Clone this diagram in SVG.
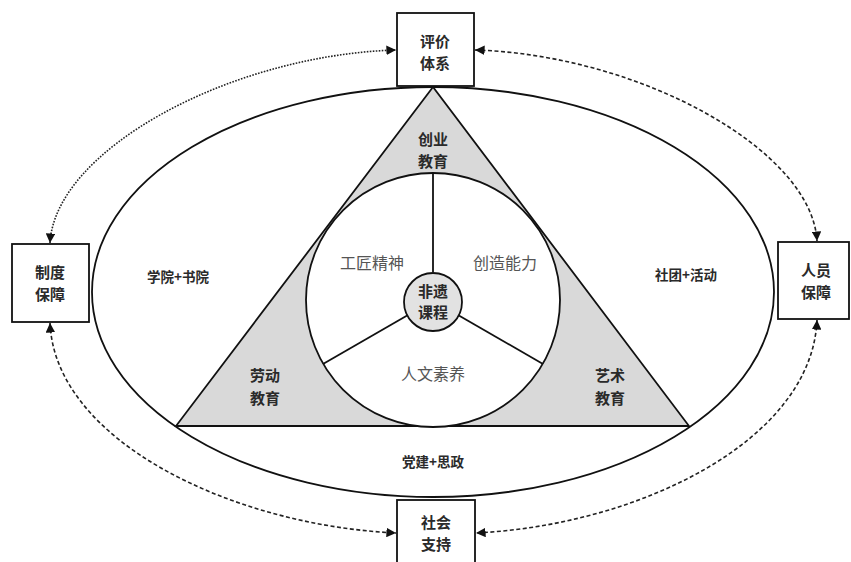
<svg xmlns="http://www.w3.org/2000/svg" width="851" height="562" viewBox="0 0 851 562">
<style>
.ln{fill:none;stroke:#111;stroke-width:1.8}
.box{fill:#fff;stroke:#111;stroke-width:1.8}
.tri{fill:#d9d9d9;stroke:#111;stroke-width:1.8}
.bt{font-family:"Noto Sans CJK SC","Noto Sans CJK TC",sans-serif;font-weight:bold;font-size:15px;fill:#2a2a2a;text-anchor:middle}
.st{font-family:"Noto Sans CJK SC",sans-serif;font-weight:bold;font-size:13.5px;fill:#2a2a2a;text-anchor:middle}
.gt{font-family:"Noto Sans CJK SC",sans-serif;font-size:16px;fill:#555;text-anchor:middle}
.dot{fill:none;stroke:#222;stroke-width:1.6;stroke-dasharray:1.6 1.4}
.dash{fill:none;stroke:#222;stroke-width:1.6;stroke-dasharray:4 2.5}
</style>
<defs>
<marker id="ah" viewBox="0 0 10 10" refX="10" refY="5" markerWidth="6" markerHeight="6" orient="auto-start-reverse" markerUnits="strokeWidth">
<path d="M0,0 L10,5 L0,10 z" fill="#111"/>
</marker>
</defs>
<g id="outer-ellipse"><ellipse class="ln" cx="433" cy="292" rx="341" ry="205"/></g>
<g id="triangle"><polygon class="tri" points="433,87 176,426 689,426"/></g>
<g id="inner-circle"><circle cx="433" cy="300" r="127" fill="#fff" stroke="#111" stroke-width="1.8"/></g>
<g id="spokes">
<line class="ln" x1="433" y1="173" x2="433" y2="272"/>
<line class="ln" x1="323" y1="364" x2="408" y2="315"/>
<line class="ln" x1="543" y1="364" x2="458" y2="315"/>
</g>
<g id="core"><circle cx="433" cy="302" r="29" fill="#e2e2e2" stroke="#111" stroke-width="1.8"/>
<text class="bt" x="433" y="297" font-size="14">非遗</text><text class="bt" x="433" y="318" font-size="14">课程</text></g>
<g id="label-chuangye"><text class="bt" x="433" y="145">创业</text><text class="bt" x="433" y="167">教育</text></g>
<g id="label-laodong"><text class="bt" x="265" y="381">劳动</text><text class="bt" x="265" y="404">教育</text></g>
<g id="label-yishu"><text class="bt" x="610" y="381">艺术</text><text class="bt" x="610" y="404">教育</text></g>
<g id="label-gongjiang"><text class="gt" x="372" y="269">工匠精神</text></g>
<g id="label-chuangzao"><text class="gt" x="505" y="269">创造能力</text></g>
<g id="label-renwen"><text class="gt" x="433" y="380">人文素养</text></g>
<g id="label-xueyuan"><text class="st" x="178" y="282">学院+书院</text></g>
<g id="label-shetuan"><text class="st" x="686" y="280">社团+活动</text></g>
<g id="label-dangjian"><text class="st" x="433" y="467">党建+思政</text></g>
<g id="connectors">
<path class="dot" d="M50,243 C55,150 230,55 396,50" marker-start="url(#ah)" marker-end="url(#ah)"/>
<path class="dash" d="M475,50 C640,55 812,150 817,241" marker-start="url(#ah)" marker-end="url(#ah)"/>
<path class="dash" d="M50,323 C55,440 230,525 396,533" marker-start="url(#ah)" marker-end="url(#ah)"/>
<path class="dash" d="M817,320 C812,440 640,525 476,533" marker-start="url(#ah)" marker-end="url(#ah)"/>
</g>
<g id="box-pingjia"><rect class="box" x="397" y="13" width="77" height="73"/><text class="bt" x="435" y="47">评价</text><text class="bt" x="435" y="69">体系</text></g>
<g id="box-zhidu"><rect class="box" x="12" y="244" width="77" height="78"/><text class="bt" x="50" y="278">制度</text><text class="bt" x="50" y="300">保障</text></g>
<g id="box-renyuan"><rect class="box" x="778" y="242" width="71" height="77"/><text class="bt" x="816" y="276">人员</text><text class="bt" x="816" y="298">保障</text></g>
<g id="box-shehui"><rect class="box" x="397" y="500" width="78" height="70"/><text class="bt" x="436" y="528">社会</text><text class="bt" x="436" y="550">支持</text></g>
</svg>
